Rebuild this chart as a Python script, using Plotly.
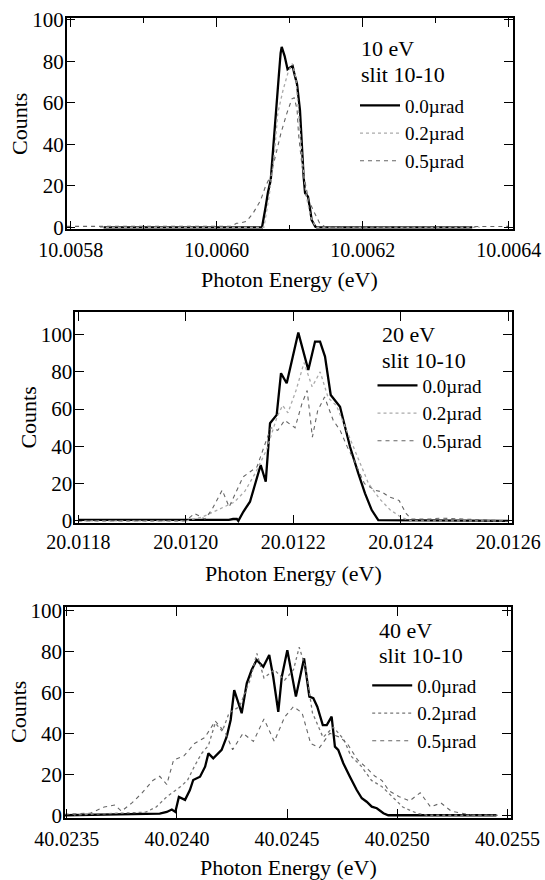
import plotly.graph_objects as go

# ---------------- data: 10 eV ----------------
E10_00 = [10.005845, 10.006062, 10.006067, 10.006070, 10.006074, 10.006078, 10.006081, 10.006085,
          10.0060875, 10.006089, 10.006093, 10.006097, 10.006100, 10.006104, 10.006106, 10.006110,
          10.006114, 10.006116, 10.006119, 10.006121, 10.006125, 10.006128, 10.006130, 10.006135,
          10.006137, 10.006350]
C10_00 = [0, 0, 10, 16.6, 23, 42, 58.5, 73, 84, 87, 82.6, 76.2, 77, 77.8, 74.6, 69,
          56.6, 40.7, 24.5, 16.6, 14.8, 8.4, 3.6, 0.4, 0, 0]

E10_02 = [10.005840, 10.0060646, 10.0060717, 10.0060789, 10.0060836, 10.0060907, 10.0060979,
          10.0061036, 10.0061083, 10.0061131, 10.0061178, 10.0061226, 10.0061287, 10.0061359, 10.006360]
C10_02 = [0, 0, 15, 35, 55, 66, 75, 79, 72, 50, 30, 15, 5, 0, 0]

E10_05 = [10.005795, 10.006020, 10.006027, 10.006031, 10.006041, 10.006050, 10.006060, 10.006067,
          10.006074, 10.006081, 10.006088, 10.006096, 10.006103, 10.006106, 10.006110, 10.006112,
          10.006117, 10.006122, 10.006126, 10.006134, 10.006141, 10.006150, 10.006400]
C10_05 = [0.5, 0.5, 2, 2, 3, 7, 13, 20, 25, 36, 45.5, 55, 62, 62.5, 57, 45, 29, 20, 13, 7, 2, 0, 0.5]

# ---------------- data: 20 eV ----------------
E20_00 = [20.011800, 20.012080, 20.012088, 20.012095, 20.0120977, 20.012107, 20.0121194, 20.0121287,
          20.0121393, 20.0121487, 20.0121567, 20.0121691, 20.0121771, 20.0121877, 20.0122093,
          20.0122279, 20.0122404, 20.0122497, 20.012259, 20.0122696, 20.0122869, 20.012293,
          20.0123055, 20.0123209, 20.0123334, 20.0123459, 20.0123581, 20.012600]
C20_00 = [0.5, 0.5, 1, 1, 0, 4.9, 10.3, 20.2, 30, 21, 52.4, 56.9, 79.3, 73.9, 101.1,
          81, 96.3, 96.3, 88.2, 67.6, 61.3, 54.2, 39.8, 25.5, 14.8, 5.8, 0.4, 0]

E20_02 = [20.011800, 20.012000, 20.012030, 20.012060, 20.012090, 20.012110, 20.012130, 20.012150,
          20.012170, 20.012180, 20.012190, 20.012205, 20.012220, 20.012235, 20.012250, 20.012265,
          20.012280, 20.012300, 20.012320, 20.012340, 20.012360, 20.012380, 20.012400, 20.012420,
          20.012600]
C20_02 = [0, 0, 2, 6, 10, 16, 26, 38, 56, 62, 58, 70, 85, 72, 80, 66,
          62, 48, 34, 20, 12, 6, 2, 0, 0]

E20_05 = [20.011800, 20.0120000, 20.0120161, 20.0120355, 20.0120484, 20.0120677, 20.0120806,
          20.0121065, 20.0121323, 20.0121452, 20.0121581, 20.012171, 20.0121839, 20.0122032,
          20.0122161, 20.0122258, 20.0122355, 20.0122452, 20.0122581, 20.0122742, 20.0122871,
          20.0123000, 20.0123129, 20.0123323, 20.0123516, 20.0123645, 20.0123774, 20.0123968,
          20.0124097, 20.0124194, 20.0124548, 20.0124742, 20.012600]
C20_05 = [0, 0, 4, 1, 6, 16.5, 7.5, 23.6, 29, 40, 50, 48.6, 54, 50,
          63, 70, 45, 59, 66.5, 54, 48.6, 40, 32.6, 20, 16.5, 15.6, 13, 11,
          4, 1, 1, 1.5, 0]

# ---------------- data: 40 eV ----------------
E40_00 = [40.023490, 40.023922, 40.023954, 40.023977, 40.023993, 40.024009, 40.024037, 40.024059,
          40.024074, 40.024105, 40.024128, 40.024143, 40.024165, 40.024203, 40.024226, 40.024244,
          40.024260, 40.024294, 40.024317, 40.024339, 40.024362, 40.024392, 40.024419, 40.024437,
          40.024460, 40.024476, 40.024501, 40.024540, 40.024577, 40.024601, 40.024619, 40.024637,
          40.024662, 40.024680, 40.024702, 40.024717, 40.024732, 40.024755, 40.024785, 40.024816,
          40.024839, 40.024861, 40.024884, 40.024907, 40.024937, 40.024959, 40.025450]
C40_00 = [0, 0.8, 1.6, 2.8, 1.6, 8.9, 7.5, 12.3, 17.2, 18.8, 23.7, 30.2, 27.8, 31.9, 38.3, 46.5,
          61.1, 49.8, 64.4, 70.9, 75.8, 72.5, 78.2, 67.6, 50.5, 67.6, 80.6, 57.9, 76.6, 57.9, 57.1, 53,
          44, 44, 48.1, 33.5, 31.9, 25.4, 18.8, 12.3, 8.3, 6.6, 4.2, 3.4, 1, 0, 0]

E40_02 = [40.023500, 40.023749, 40.023859, 40.023906, 40.023954, 40.024017, 40.024048, 40.024080,
          40.024111, 40.024143, 40.024174, 40.024206, 40.024237, 40.024284, 40.024332, 40.024363,
          40.024395, 40.024442, 40.024489, 40.024529, 40.024555, 40.024584, 40.024615, 40.024663,
          40.024710, 40.024757, 40.024789, 40.024836, 40.024883, 40.024930, 40.024978, 40.025025,
          40.025088, 40.025135, 40.025450]
C40_02 = [0, 1, 1.5, 4, 9, 14, 17, 24, 30, 34, 45, 41, 50, 53, 66, 79,
          67, 71, 66, 71, 82, 72, 50, 38, 43, 37, 29, 24, 17, 14, 9, 4,
          1, 0, 0]

E40_05 = [40.023490, 40.023607, 40.023670, 40.023717, 40.023749, 40.023796, 40.023843, 40.023891,
          40.023922, 40.023954, 40.023985, 40.024032, 40.024080, 40.024127, 40.024174, 40.024221,
          40.024253, 40.024300, 40.024347, 40.024395, 40.024442, 40.024489, 40.024529, 40.024568,
          40.024607, 40.024647, 40.024694, 40.024741, 40.024773, 40.024820, 40.024852, 40.024899,
          40.024930, 40.024962, 40.025009, 40.025056, 40.025104, 40.025151, 40.025198, 40.025245,
          40.025293, 40.025340, 40.025466]
C40_05 = [0.5, 1, 4, 5, 2, 6, 11, 17, 19, 15, 27, 29, 35, 38, 46, 40,
          32, 40, 36, 47, 36, 48, 53, 50, 35, 33, 40, 38, 35, 27, 24, 19,
          17, 12, 9, 7, 11, 4, 6, 2, 1, 0, 0]

# ---------------- ticks / labels ----------------
XT10 = [10.0058, 10.0060, 10.0062, 10.0064]
XT20 = [20.0118, 20.0120, 20.0122, 20.0124, 20.0126]
XT40 = [40.0235, 40.0240, 40.0245, 40.0250, 40.0255]
YT = [0, 20, 40, 60, 80, 100]
SERIES_NAMES = ["0.0µrad", "0.2µrad", "0.5µrad"]
PANEL_LABELS = [("10 eV", "slit 10-10"), ("20 eV", "slit 10-10"), ("40 eV", "slit 10-10")]

W, H = 545, 880
FONT = "Liberation Serif"

panels = [
    dict(E=[E10_00, E10_02, E10_05], C=[C10_00, C10_02, C10_05], xt=XT10,
         xr=[10.0057945, 10.0064051], yr=[-0.9, 100.8],
         box=(66.7, 512.5, 18.3, 229.3), minor=0.0001, dotc="#aaaaaa",
         lab=(359, 48.6, 74.6), leg=(355, 86.5), xso=2),
    dict(E=[E20_00, E20_02, E20_05], C=[C20_00, C20_02, C20_05], xt=XT20,
         xr=[20.0117944, 20.0126063], yr=[-1.3, 112.0],
         box=(75.3, 511.7, 312.3, 523.3), minor=None, dotc="#aaaaaa",
         lab=(380, 335, 360), leg=(372.5, 366.5), xso=0),
    dict(E=[E40_00, E40_02, E40_05], C=[C40_00, C40_02, C40_05], xt=XT40,
         xr=[40.0234923, 40.0255159], yr=[-1.2, 101.5],
         box=(65.0, 511.0, 607.3, 817.7), minor=None, dotc="#777777",
         lab=(376.7, 630, 655), leg=(367.2, 666.5), xso=3),
]

fig = go.Figure()
layout = dict(template="none", width=W, height=H, margin=dict(l=0, r=0, t=0, b=0, pad=0),
              paper_bgcolor="white", plot_bgcolor="white",
              font=dict(family=FONT, color="black", size=20), showlegend=True)
annotations = []

for i, p in enumerate(panels):
    k = "" if i == 0 else str(i + 1)
    xa, ya = "x" + k, "y" + k
    legname = "legend" + k
    styles = [dict(color="black", width=2.3, dash="solid"),
              dict(color=p["dotc"], width=1.3, dash="dot"),
              dict(color="#666666", width=1.1, dash="4px,4px")]
    for j in range(3):
        fig.add_trace(go.Scatter(x=p["E"][j], y=p["C"][j], mode="lines", name=SERIES_NAMES[j],
                                 line=styles[j], xaxis=xa, yaxis=ya, legend=legname,
                                 hoverinfo="skip"))
    l, r, t, b = p["box"]
    xdom = [l / W, r / W]
    ydom = [1 - b / H, 1 - t / H]
    xd = dict(domain=xdom, range=p["xr"], tickvals=p["xt"], tickformat=".4f", automargin=False,
              showgrid=False, zeroline=False, showline=True, linecolor="black", linewidth=1.5,
              mirror="ticks", ticks="inside", ticklen=9, tickwidth=1.2, tickcolor="black",
              tickfont=dict(family=FONT, size=20, color="black"), anchor=ya,
              ticklabelstandoff=p["xso"])
    if p["minor"]:
        xd["minor"] = dict(dtick=p["minor"], ticks="inside", ticklen=5, tickwidth=1,
                           tickcolor="black", tick0=p["xt"][0])
    yd = dict(domain=ydom, range=p["yr"], tickvals=YT, showgrid=False, zeroline=False,
              automargin=False, showline=True, linecolor="black", linewidth=1.5, mirror="ticks",
              ticks="inside", ticklen=9, tickwidth=1.2, tickcolor="black",
              tickfont=dict(family=FONT, size=21, color="black"), anchor=xa,
              ticklabelstandoff=-3)
    layout["xaxis" + k] = xd
    layout["yaxis" + k] = yd
    lx, ly = p["leg"]
    layout[legname] = dict(x=lx / W, y=1 - ly / H, xanchor="left", yanchor="top",
                           bgcolor="rgba(0,0,0,0)", borderwidth=0,
                           font=dict(family=FONT, size=19, color="black"),
                           itemwidth=40, tracegroupgap=0)
    tx, ty1, ty2 = p["lab"]
    for txt, ty in zip(PANEL_LABELS[i], (ty1, ty2)):
        annotations.append(dict(text=txt, xref="paper", yref="paper", x=tx / W, y=1 - ty / H,
                                xanchor="left", yanchor="middle", showarrow=False,
                                font=dict(family=FONT, size=22, color="black")))
    annotations.append(dict(text="Counts", textangle=-90, xref="paper", yref="paper",
                            x=(l - 46.5) / W, y=1 - (t + b) / 2 / H, xanchor="center",
                            yanchor="middle", showarrow=False,
                            font=dict(family=FONT, size=22, color="black")))
    annotations.append(dict(text="Photon Energy (eV)", xref="paper", yref="paper",
                            x=(l + r) / 2 / W, y=1 - (b + 50) / H, xanchor="center",
                            yanchor="middle", showarrow=False,
                            font=dict(family=FONT, size=22, color="black")))

layout["annotations"] = annotations
fig.update_layout(**layout)
fig.write_html("out.html")
